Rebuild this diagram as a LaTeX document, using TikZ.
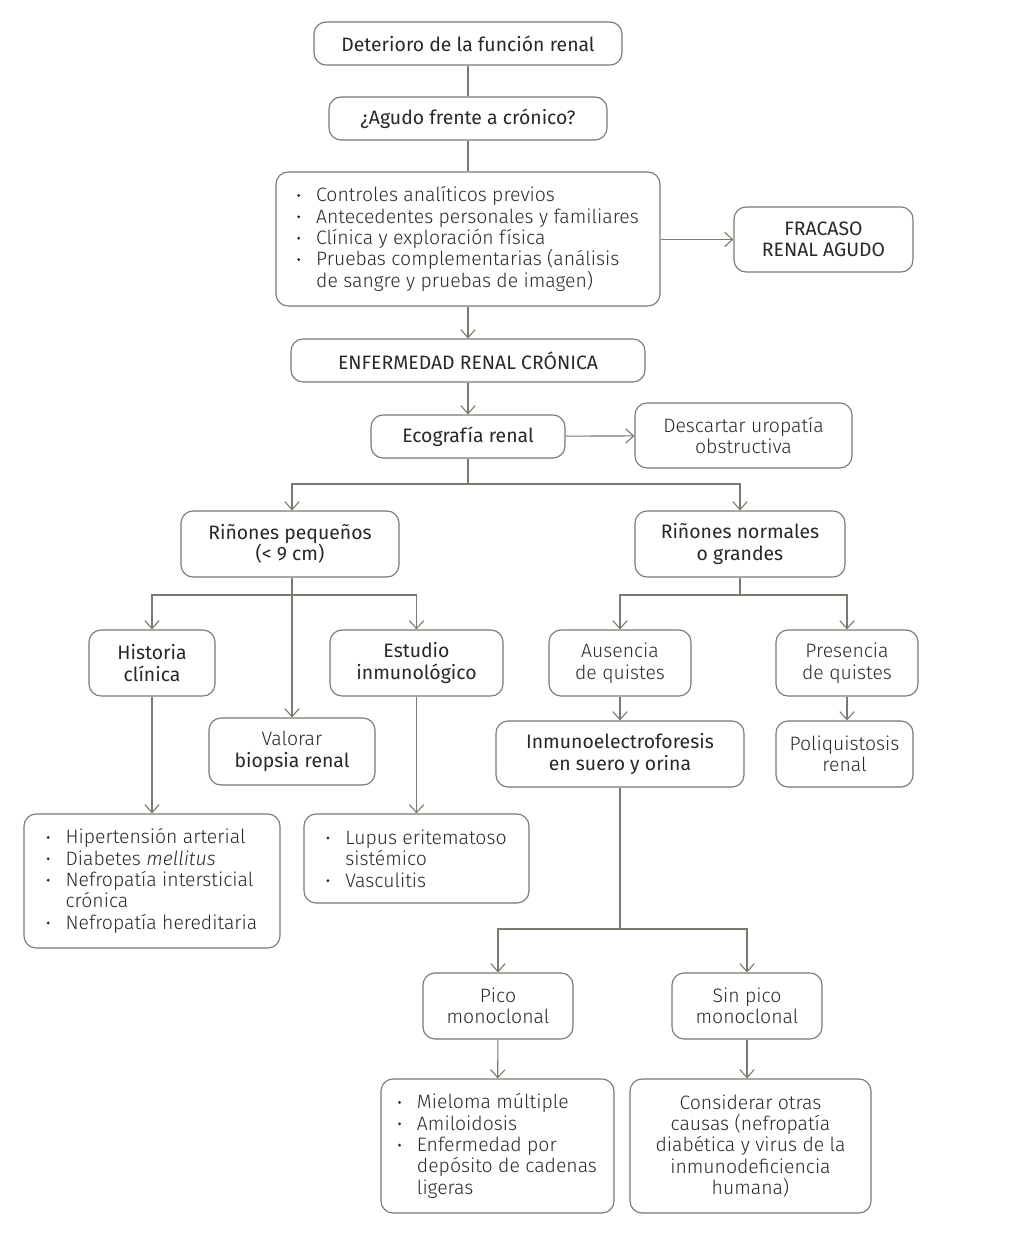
\documentclass[tikz,border=0pt]{standalone}
\usepackage{fontspec}
\setmainfont{Fira Sans}[UprightFont=* Light, BoldFont=*, ItalicFont=* Light Italic]
\usetikzlibrary{arrows.meta}
\definecolor{linec}{HTML}{7D7870}
\definecolor{textc}{HTML}{2B2723}
\newcommand{\px}{0.025cm}
\newcommand{\bul}{\makebox[13.5pt][l]{\raisebox{0.25em}{\tikz\fill[textc] (0,0) circle (1.1pt);}}}
\newcommand{\cnt}{\hspace*{13.5pt}}

\begin{document}
\begin{tikzpicture}[x=0.025cm, y=-0.025cm,
    box/.style={draw=linec, line width=0.8pt, rounded corners=0.3cm, text=textc, align=center,
        inner sep=2pt, font=\fontsize{13.8}{15.2}\selectfont},
    mbox/.style={box, font=\fontsize{13.8}{15.2}\selectfont\bfseries},
    lbox/.style={box, align=left},
    conn/.style={draw=linec, line width=0.8pt},
    arr/.style={conn, -{Straight Barb[length=2mm, width=3.6mm]}}]

    \useasboundingbox (0,0) rectangle (1016,1244);

    \node[mbox, minimum width=308*\px, minimum height=43*\px] (det) at (468,43.5) {Deterioro de la función renal};
    \node[mbox, minimum width=278*\px, minimum height=43*\px] (agu) at (468,118.5) {¿Agudo frente a crónico?};
    \node[lbox, minimum width=384*\px, minimum height=134*\px] (lst) at (468,239) {\bul Controles analíticos previos\\ \bul Antecedentes personales y familiares\\ \bul Clínica y exploración física\\ \bul Pruebas complementarias (análisis\\ \cnt de sangre y pruebas de imagen)};
    \node[mbox, minimum width=179*\px, minimum height=65*\px] (fra) at (823.5,239.5) {FRACASO\\ RENAL AGUDO};
    \node[mbox, minimum width=354*\px, minimum height=43*\px] (erc) at (468,360.5) {ENFERMEDAD RENAL CRÓNICA};
    \node[mbox, minimum width=194*\px, minimum height=43*\px] (eco) at (468,436.5) {Ecografía renal};
    \node[box, minimum width=217*\px, minimum height=65*\px] (des) at (743.5,435.5) {Descartar uropatía\\ obstructiva};

    \node[mbox, minimum width=218*\px, minimum height=66*\px] (rpq) at (290,544) {Riñones pequeños\\ (< 9 cm)};
    \node[mbox, minimum width=210*\px, minimum height=66*\px] (rng) at (740,544) {Riñones normales\\ o grandes};

    \node[mbox, minimum width=126*\px, minimum height=66*\px] (his) at (152,663) {Historia\\ clínica};
    \node[box, minimum width=166*\px, minimum height=67*\px] (val) at (292,751.5) {Valorar\\ \textbf{biopsia renal}};
    \node[mbox, minimum width=173*\px, minimum height=66*\px] (est) at (416.5,663) {Estudio\\ inmunológico};
    \node[lbox, minimum width=256*\px, minimum height=134*\px] (hta) at (152,881) {\bul Hipertensión arterial\\ \bul Diabetes \textit{mellitus}\\ \bul Nefropatía intersticial\\ \cnt crónica\\ \bul Nefropatía hereditaria};
    \node[lbox, minimum width=225*\px, minimum height=89*\px] (lup) at (416.5,858.5) {\bul Lupus eritematoso\\ \cnt sistémico\\ \bul Vasculitis};

    \node[box, minimum width=142*\px, minimum height=66*\px] (aus) at (620,663) {Ausencia\\ de quistes};
    \node[box, minimum width=142*\px, minimum height=66*\px] (pre) at (847,663) {Presencia\\ de quistes};
    \node[mbox, minimum width=248*\px, minimum height=66*\px] (inm) at (620,754) {Inmunoelectroforesis\\ en suero y orina};
    \node[box, minimum width=137*\px, minimum height=66*\px] (pol) at (844.5,754) {Poliquistosis\\ renal};

    \node[box, minimum width=150*\px, minimum height=66*\px] (pic) at (498,1006) {Pico\\ monoclonal};
    \node[box, minimum width=150*\px, minimum height=66*\px] (sin) at (747,1006) {Sin pico\\ monoclonal};
    \node[lbox, minimum width=233*\px, minimum height=134*\px] (mie) at (497.5,1146) {\bul Mieloma múltiple\\ \bul Amiloidosis\\ \bul Enfermedad por\\ \cnt depósito de cadenas\\ \cnt ligeras};
    \node[box, minimum width=241*\px, minimum height=134*\px] (con) at (750.5,1146) {Considerar otras\\ causas (nefropatía\\ diabética y virus de la\\ inmunodeficiencia\\ humana)};

    \coordinate (b1) at (468,484);
    \coordinate (b2) at (292,595);
    \coordinate (b3) at (740,595);
    \coordinate (b4) at (620,929);

    \draw[conn] (det) -- (agu);
    \draw[conn] (agu) -- (lst);
    \draw[arr] (lst) -- (erc);
    \draw[arr] (lst.east |- fra) -- (fra);
    \draw[arr] (erc) -- (eco);
    \draw[arr] (eco) -- (des);
    \draw[conn] (eco) -- (b1);
    \draw[arr] (b1) -| (rpq.north -| b2);
    \draw[arr] (b1) -| (rng);
    \draw[arr] (rpq.south -| val) -- (val);
    \draw[arr] (b2) -| (his);
    \draw[arr] (b2) -| (est);
    \draw[arr] (his) -- (hta);
    \draw[arr] (est) -- (lup);
    \draw[conn] (rng) -- (b3);
    \draw[arr] (b3) -| (aus);
    \draw[arr] (b3) -| (pre);
    \draw[arr] (aus) -- (inm);
    \draw[arr] (pre) -- (pre |- pol.north);
    \draw[conn] (inm) -- (b4);
    \draw[arr] (b4) -| (pic);
    \draw[arr] (b4) -| (sin);
    \draw[arr] (pic) -- (mie);
    \draw[arr] (sin) -- (sin |- con.north);

\end{tikzpicture}
\end{document}
